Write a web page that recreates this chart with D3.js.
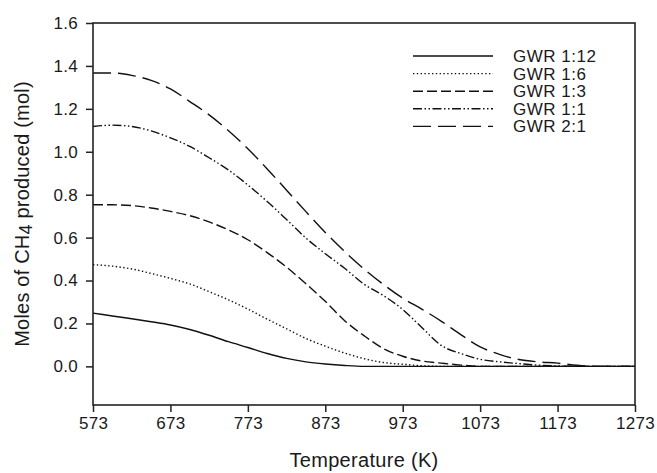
<!DOCTYPE html>
<html>
<head>
<meta charset="utf-8">
<script src="https://cdn.jsdelivr.net/npm/d3@7"></script>
<style>
  html, body { margin: 0; padding: 0; background: #fff; }
  svg { display: block; }
  text { font-family: "Liberation Sans", Arial, Helvetica, sans-serif; fill: #1a1a1a; }
</style>
</head>
<body>
<svg id="chart" width="657" height="473"></svg>
<script>
// Temperature grid (K)
const temperatures = [573, 598, 623, 648, 673, 698, 723, 748, 773, 798, 823, 848, 873, 898, 923,
  948, 973, 998, 1023, 1048, 1073, 1098, 1123, 1148, 1173, 1198, 1223, 1248, 1273];

// Moles of CH4 produced (mol) for each gas-to-water ratio
const gwr1_12 = [0.248, 0.235, 0.222, 0.208, 0.193, 0.172, 0.145, 0.115, 0.088, 0.060, 0.037, 0.021,
  0.011, 0.004, 0, 0, 0, 0, 0, 0, 0, 0, 0, 0, 0, 0, 0, 0, 0];
const gwr1_6 = [0.474, 0.467, 0.454, 0.433, 0.410, 0.384, 0.348, 0.310, 0.267, 0.220, 0.175, 0.130,
  0.094, 0.062, 0.036, 0.018, 0.010, 0.003, 0, 0, 0, 0, 0, 0, 0, 0, 0, 0, 0];
const gwr1_3 = [0.753, 0.753, 0.749, 0.738, 0.722, 0.702, 0.673, 0.636, 0.590, 0.530, 0.462, 0.385,
  0.303, 0.213, 0.143, 0.083, 0.047, 0.025, 0.015, 0.006, 0, 0, 0, 0, 0, 0, 0, 0, 0];
const gwr1_1 = [1.118, 1.124, 1.118, 1.097, 1.065, 1.025, 0.972, 0.915, 0.845, 0.768, 0.684, 0.598,
  0.525, 0.457, 0.383, 0.330, 0.265, 0.180, 0.097, 0.060, 0.033, 0.021, 0.013, 0.006, 0.002, 0, 0, 0, 0];
const gwr2_1 = [1.367, 1.367, 1.356, 1.333, 1.293, 1.234, 1.172, 1.098, 1.014, 0.920, 0.821, 0.721,
  0.624, 0.535, 0.454, 0.382, 0.318, 0.266, 0.210, 0.148, 0.091, 0.056, 0.032, 0.021, 0.015, 0.005, 0, 0, 0];

const seriesNames = ["GWR 1:12", "GWR 1:6", "GWR 1:3", "GWR 1:1", "GWR 2:1"];
const seriesValues = [gwr1_12, gwr1_6, gwr1_3, gwr1_1, gwr2_1];

const xTicks = [573, 673, 773, 873, 973, 1073, 1173, 1273];
const yTicks = [0.0, 0.2, 0.4, 0.6, 0.8, 1.0, 1.2, 1.4, 1.6];

// Line styles per series
const dashes = ["none", "1.4,2.4", "10,4", "9,2.5,1.5,2.5,1.5,2.5", "18,7"];

const svg = d3.select("#chart");
const plotLeft = 93, plotRight = 635, plotTop = 23, plotBottom = 405;

const x = d3.scaleLinear().domain([573, 1273]).range([plotLeft, plotRight]);
const y = d3.scaleLinear().domain([-0.18, 1.6]).range([plotBottom, plotTop]);

// Curves
const line = d3.line()
  .x(d => x(d[0]))
  .y(d => y(d[1]))
  .curve(d3.curveMonotoneX);

const plot = svg.append("g");
seriesValues.forEach((vals, i) => {
  plot.append("path")
    .datum(temperatures.map((t, j) => [t, vals[j]]))
    .attr("fill", "none")
    .attr("stroke", "#111")
    .attr("stroke-width", 1.4)
    .attr("stroke-dasharray", dashes[i])
    .attr("d", line);
});

// Frame
svg.append("rect")
  .attr("x", plotLeft).attr("y", plotTop)
  .attr("width", plotRight - plotLeft).attr("height", plotBottom - plotTop)
  .attr("fill", "none").attr("stroke", "#222").attr("stroke-width", 1.6);

// Axes
const xAxis = svg.append("g")
  .attr("transform", `translate(0,${plotBottom})`)
  .call(d3.axisBottom(x).tickValues(xTicks).tickSize(7).tickPadding(5).tickFormat(d3.format("d")));
const yAxis = svg.append("g")
  .attr("transform", `translate(${plotLeft},0)`)
  .call(d3.axisLeft(y).tickValues(yTicks).tickSize(7).tickPadding(8).tickFormat(d3.format(".1f")));

[xAxis, yAxis].forEach(g => {
  g.select(".domain").remove();
  g.selectAll(".tick line").attr("stroke", "#222").attr("stroke-width", 1.5);
  g.selectAll(".tick text")
    .attr("fill", "#1a1a1a")
    .style("font-family", '"Liberation Sans", Arial, sans-serif')
    .style("font-size", "17px")
    .style("letter-spacing", "0.3px");
});

// Axis titles
svg.append("text")
  .attr("x", (plotLeft + plotRight) / 2)
  .attr("y", 467)
  .attr("text-anchor", "middle")
  .style("font-size", "20px")
  .style("letter-spacing", "0.3px")
  .text("Temperature (K)");

const yt = svg.append("text")
  .attr("transform", `translate(29,${(plotTop + plotBottom) / 2}) rotate(-90)`)
  .attr("text-anchor", "middle")
  .style("font-size", "20px")
  .style("letter-spacing", "0.2px");
yt.append("tspan").text("Moles of CH");
yt.append("tspan").attr("dy", 3).style("font-size", "18px").text("4");
yt.append("tspan").attr("dy", -3).text(" produced (mol)");

// Legend
const legend = svg.append("g");
seriesNames.forEach((name, i) => {
  const ly = 56 + i * 17.6;
  legend.append("line")
    .attr("x1", 413).attr("x2", 493)
    .attr("y1", ly).attr("y2", ly)
    .attr("stroke", "#111").attr("stroke-width", 1.4)
    .attr("stroke-dasharray", dashes[i]);
  legend.append("text")
    .attr("x", 513).attr("y", ly + 6)
    .style("font-size", "17px")
    .style("letter-spacing", "0.5px")
    .text(name);
});
</script>
</body>
</html>
